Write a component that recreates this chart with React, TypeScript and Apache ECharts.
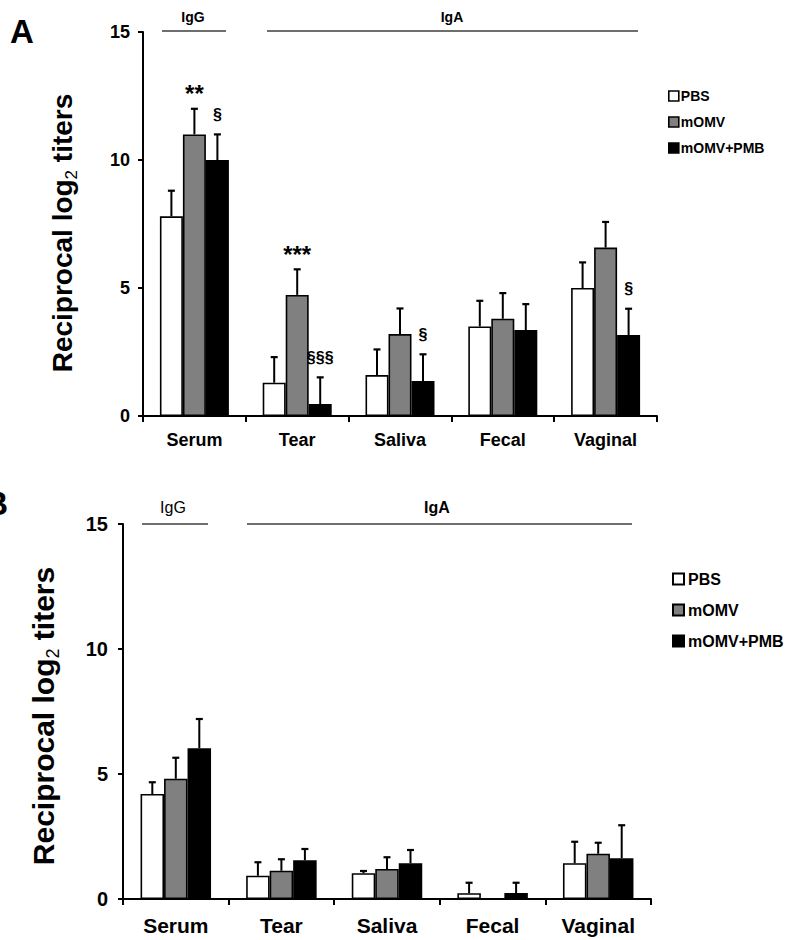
import React, { useEffect, useRef } from "react";
import * as echarts from "echarts";

const categories = ["Serum", "Tear", "Saliva", "Fecal", "Vaginal"];
const groups = ["PBS", "mOMV", "mOMV+PMB"];
const yTicks = [0, 5, 10, 15];

// Panel A
const aPBS = [7.8, 1.3, 1.6, 3.5, 5.0];
const aPBSErr = [1.0, 1.0, 1.0, 1.0, 1.0];
const aMOMV = [11.0, 4.73, 3.2, 3.8, 6.58];
const aMOMVErr = [1.0, 1.0, 1.0, 1.0, 1.0];
const aPMB = [10.0, 0.47, 1.37, 3.36, 3.16];
const aPMBErr = [1.0, 1.04, 1.04, 1.01, 1.03];
const aNotes = [
  { cat: 0, grp: 1, text: "**" },
  { cat: 0, grp: 2, text: "§" },
  { cat: 1, grp: 1, text: "***" },
  { cat: 1, grp: 2, text: "§§§" },
  { cat: 2, grp: 2, text: "§" },
  { cat: 4, grp: 2, text: "§" },
];

// Panel B
const bPBS = [4.2, 0.93, 1.03, 0.23, 1.43];
const bPBSErr = [0.47, 0.54, 0.09, 0.42, 0.86];
const bMOMV = [4.81, 1.13, 1.2, 0.0, 1.81];
const bMOMVErr = [0.84, 0.46, 0.47, 0.0, 0.44];
const bPMB = [6.03, 1.55, 1.43, 0.24, 1.63];
const bPMBErr = [1.17, 0.45, 0.53, 0.41, 1.32];
const bNotes: { cat: number; grp: number; text: string }[] = [];

const FONT = "'Liberation Sans', Arial, sans-serif";
const fills = ["#ffffff", "#808080", "#000000"];

export default function App() {
  const ref = useRef<HTMLDivElement>(null);
  useEffect(() => {
    document.body.style.margin = "0";
    const chart = echarts.init(ref.current!, null, { renderer: "svg" });

    const panels = [
      { vals: [aPBS, aMOMV, aPMB], errs: [aPBSErr, aMOMVErr, aPMBErr], notes: aNotes, bw: 23 },
      { vals: [bPBS, bMOMV, bPMB], errs: [bPBSErr, bMOMVErr, bPMBErr], notes: bNotes, bw: 23.5 },
    ];

    const series: any[] = [];
    panels.forEach((p, pi) => {
      p.vals.forEach((vals, gi) => {
        series.push({
          type: "bar",
          name: groups[gi],
          xAxisIndex: pi,
          yAxisIndex: pi,
          data: vals,
          barWidth: p.bw,
          barGap: "0%",
          itemStyle: { color: fills[gi], borderColor: "#000", borderWidth: 1.6 },
          z: 2,
        });
      });
      p.vals.forEach((vals, gi) => {
        series.push({
          type: "custom",
          xAxisIndex: pi,
          yAxisIndex: pi,
          z: 5,
          data: vals.map((v, i) => [i, v, p.errs[gi][i]]),
          renderItem: (params: any, api: any) => {
            const ci = api.value(0);
            const v = api.value(1);
            const e = api.value(2);
            const base = api.coord([ci, v]);
            const top = api.coord([ci, v + e]);
            const x = base[0] + (gi - 1) * p.bw;
            const children: any[] = [];
            if (e > 0) {
              children.push({
                type: "line",
                shape: { x1: x, y1: base[1], x2: x, y2: top[1] },
                style: { stroke: "#000", lineWidth: 2 },
              });
              children.push({
                type: "line",
                shape: { x1: x - 3.5, y1: top[1], x2: x + 3.5, y2: top[1] },
                style: { stroke: "#000", lineWidth: 2.2 },
              });
            }
            const note = p.notes.find((n) => n.cat === ci && n.grp === gi);
            if (note) {
              const star = note.text.indexOf("*") >= 0;
              children.push({
                type: "text",
                x: x,
                y: top[1] - (star ? 15 : 20),
                style: {
                  text: note.text,
                  fill: "#000",
                  font: `bold ${star ? 24 : 16}px ${FONT}`,
                  align: "center",
                  verticalAlign: "middle",
                },
              });
            }
            return { type: "group", children };
          },
        });
      });
    });

    const yAxisCommon = (fs: number, margin: number) => ({
      type: "value",
      min: yTicks[0],
      max: yTicks[yTicks.length - 1],
      interval: 5,
      splitLine: { show: false },
      axisLine: { show: true, lineStyle: { color: "#000", width: 2 } },
      axisTick: { show: true, inside: false, length: 5, lineStyle: { color: "#000", width: 2 } },
      axisLabel: { color: "#000", fontSize: fs, fontWeight: "bold", fontFamily: FONT, margin },
    });
    const xAxisCommon = (gi: number, fs: number, margin: number) => ({
      type: "category",
      gridIndex: gi,
      data: categories,
      axisLine: { show: true, lineStyle: { color: "#000", width: 2 } },
      axisTick: { show: true, alignWithLabel: false, length: 6, lineStyle: { color: "#000", width: 2 } },
      axisLabel: { color: "#000", fontSize: fs, fontWeight: "bold", fontFamily: FONT, margin },
    });

    const gray = "#6e6e6e";
    const textEl = (x: number, y: number, text: string, fs: number, weight = "bold", align = "center") => ({
      type: "text",
      x,
      y,
      style: { text, fill: "#000", font: `${weight} ${fs}px ${FONT}`, align, verticalAlign: "middle" },
    });
    const lineEl = (x1: number, x2: number, y: number) => ({
      type: "line",
      shape: { x1, y1: y, x2, y2: y },
      style: { stroke: gray, lineWidth: 2 },
    });
    const titleEl = (x: number, y: number, fs: number, sub: number) => ({
      type: "text",
      x,
      y,
      rotation: Math.PI / 2,
      style: {
        text: "Reciprocal log{sub|2} titers",
        fill: "#000",
        font: `bold ${fs}px ${FONT}`,
        align: "center",
        verticalAlign: "middle",
        lineHeight: fs + 8,
        rich: {
          sub: { fontSize: sub, fontWeight: "normal", fontFamily: FONT, verticalAlign: "bottom", fill: "#000" },
        },
      },
    });

    chart.setOption({
      animation: false,
      grid: [
        { left: 143, top: 32, width: 514, height: 384 },
        { left: 123, top: 524, width: 528, height: 375 },
      ],
      xAxis: [xAxisCommon(0, 18, 15), xAxisCommon(1, 21, 16)],
      yAxis: [
        { ...yAxisCommon(18, 13), gridIndex: 0 },
        { ...yAxisCommon(20, 15), gridIndex: 1 },
      ],
      legend: [
        {
          data: groups,
          orient: "vertical",
          left: 663,
          top: 84,
          itemWidth: 10,
          itemHeight: 10,
          itemGap: 12,
          icon: "rect",
          selectedMode: false,
          itemStyle: { borderColor: "#000", borderWidth: 1.6 },
          textStyle: { color: "#000", fontSize: 14, fontWeight: "bold", fontFamily: FONT, padding: [0, 0, 0, -3] },
        },
        {
          data: groups,
          orient: "vertical",
          left: 667,
          top: 566,
          itemWidth: 11,
          itemHeight: 11,
          itemGap: 15,
          icon: "rect",
          selectedMode: false,
          itemStyle: { borderColor: "#000", borderWidth: 2 },
          textStyle: { color: "#000", fontSize: 16, fontWeight: "bold", fontFamily: FONT, padding: [0, 0, 0, -1] },
        },
      ],
      graphic: [
        textEl(22, 31, "A", 33),
        textEl(8, 503, "B", 33, "bold", "right"),
        lineEl(162, 226, 31),
        lineEl(267, 638, 31),
        textEl(193, 17, "IgG", 14),
        textEl(452, 17, "IgA", 14),
        lineEl(142, 208, 524),
        lineEl(247, 632, 524),
        textEl(173, 507, "IgG", 16, "normal"),
        textEl(437, 507, "IgA", 16),
        titleEl(62, 233, 28, 17),
        titleEl(43, 716, 30, 18),
      ],
      series,
    });
    return () => chart.dispose();
  }, []);
  return <div ref={ref} style={{ width: 795, height: 940 }} />;
}
